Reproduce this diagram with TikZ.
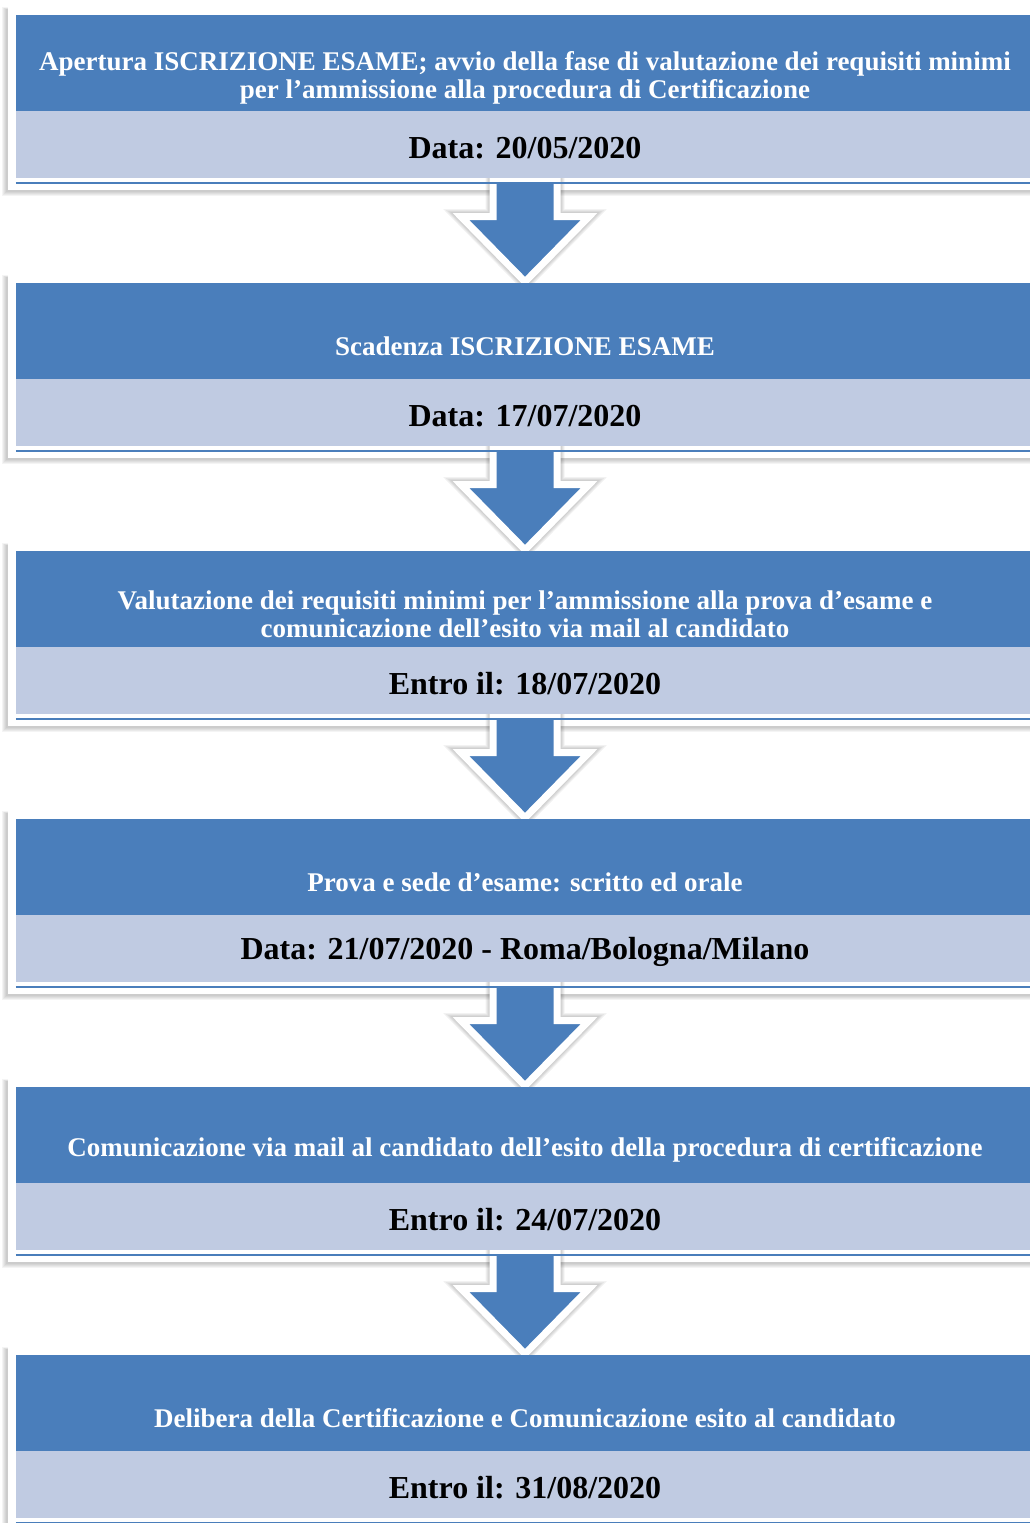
\documentclass[tikz,border=0pt]{standalone}
\usepackage{fontspec}
\setmainfont{Liberation Serif}
\usetikzlibrary{positioning,calc}

\definecolor{phaseblue}{RGB}{74,126,187}
\definecolor{phaselight}{RGB}{192,203,226}

\pgfdeclarelayer{frames}
\pgfdeclarelayer{arrows}
\pgfsetlayers{frames,arrows,main}

\tikzset{
  head/.style={fill=phaseblue, minimum width=1018pt, minimum height=96pt, inner sep=0pt},
  band/.style={fill=phaselight, minimum width=1018pt, minimum height=67pt, inner sep=0pt},
  title/.style={text=white, align=center, inner sep=0pt, font=\bfseries\fontsize{27}{28}\selectfont},
  date/.style={inner sep=0pt, font=\bfseries\fontsize{32}{34}\selectfont},
  softshadow/.style={fill=black, opacity=0.045},
  arrowshadow/.style={draw=black, fill=black, opacity=0.05, miter limit=10},
  blockarrow/.style={fill=phaseblue, draw=white, line width=7pt, miter limit=10}
}

% one phase: name, top y, title, date
\newcommand{\phase}[4]{%
  \begin{pgfonlayer}{frames}
    \foreach \k in {0,...,4}
      \fill[softshadow] (6-\k,#2-6-\k*0.5) rectangle (1045,#2+177+\k);
    \fill[white] (8,#2-8) rectangle (1045,#2+175);
  \end{pgfonlayer}
  \node[head] (h#1) at (525,#2+48) {};
  \node[title] (t#1) at ([yshift=-15pt]h#1.center) {#3};
  \node[band, below=0pt of h#1] (b#1) {};
  \node[date] (d#1) at ([yshift=-3pt]b#1.center) {#4};
  \draw[phaseblue, line width=2.5pt] ([yshift=-4.5pt]b#1.south west) -- ([yshift=-4.5pt]b#1.south east);
}

% outline of the block arrow below band s
\newcommand{\arrowpath}[2]{($(#1)+(-32,0)$) -- ($(#1)+(32,0)$) -- ($(#1)+(32,37)$)
  -- ($(#1)+(64,37)$) -- (#2) -- ($(#1)+(-64,37)$) -- ($(#1)+(-32,37)$) -- cycle}

\begin{document}
\begin{tikzpicture}[x=1pt, y=-1pt]
  \useasboundingbox (0,0) rectangle (1030,1523);
  \clip (0,0) rectangle (1030,1523);

  \phase{1}{15}{Apertura ISCRIZIONE ESAME; avvio della fase di valutazione dei requisiti minimi\\per l’ammissione alla procedura di Certificazione}{Data: 20/05/2020}
  \phase{2}{283}{Scadenza ISCRIZIONE ESAME}{Data: 17/07/2020}
  \phase{3}{551}{Valutazione dei requisiti minimi per l’ammissione alla prova d'esame e\\comunicazione dell'esito via mail al candidato}{Entro il: 18/07/2020}
  \phase{4}{819}{Prova e sede d'esame: scritto ed orale}{Data: 21/07/2020 - Roma/Bologna/Milano}
  \phase{5}{1087}{Comunicazione via mail al candidato dell'esito della procedura di certificazione}{Entro il: 24/07/2020}
  \phase{6}{1355}{Delibera della Certificazione e Comunicazione esito al candidato}{Entro il: 31/08/2020}

  % block arrows between the phases
  \begin{pgfonlayer}{arrows}
    \foreach \i/\j in {1/2,2/3,3/4,4/5,5/6} {
      \coordinate (s\i) at ([yshift=-1pt]b\i.south);
      \coordinate (e\i) at ([yshift=1pt]h\j.north);
      \foreach \w in {9,11,13,15}
        \path[arrowshadow, line width=\w pt, xshift=-1pt, yshift=-2pt] \arrowpath{s\i}{e\i};
      \path[blockarrow] \arrowpath{s\i}{e\i};
    }
  \end{pgfonlayer}
\end{tikzpicture}
\end{document}
